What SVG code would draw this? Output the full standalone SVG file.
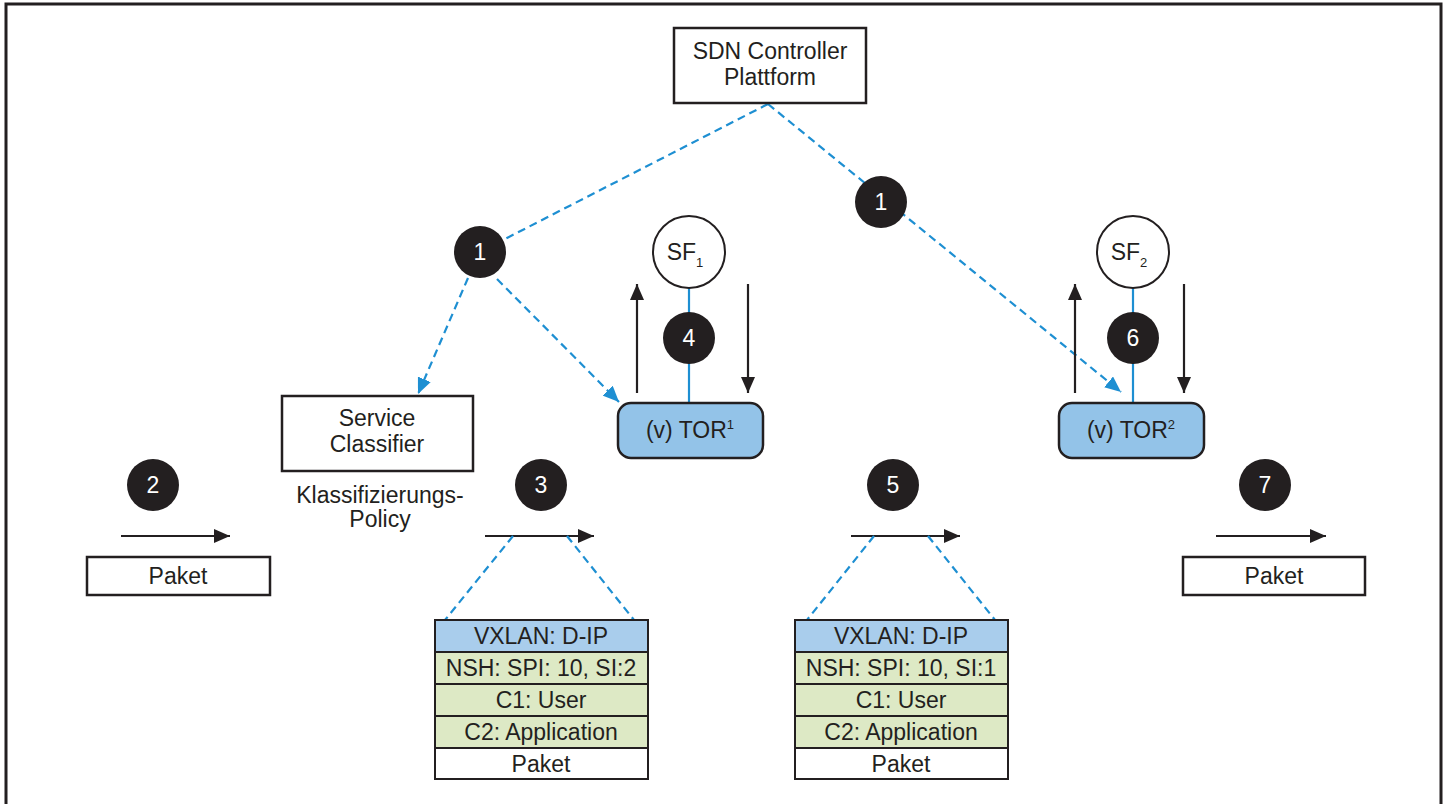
<svg xmlns="http://www.w3.org/2000/svg" width="1448" height="804" viewBox="0 0 1448 804">
<style>
.t{font-family:"Liberation Sans",Arial,Helvetica,sans-serif;font-size:23px;fill:#231f20;text-anchor:middle}
.w{font-family:"Liberation Sans",Arial,Helvetica,sans-serif;font-size:23px;fill:#ffffff;text-anchor:middle}
.box{fill:#ffffff;stroke:#231f20;stroke-width:2.5}
.tor{fill:#93c3e8;stroke:#231f20;stroke-width:2.5}
.num{fill:#231f20}
.sf{fill:#ffffff;stroke:#231f20;stroke-width:2}
.dash{fill:none;stroke:#1e8fd2;stroke-width:2.2;stroke-dasharray:8 5}
.blue{fill:none;stroke:#1e8fd2;stroke-width:2.2}
.arr{fill:none;stroke:#231f20;stroke-width:2.2}
.hdr{fill:#a9cdec;stroke:#231f20;stroke-width:2}
.grn{fill:#dde9c5;stroke:#231f20;stroke-width:2}
.wht{fill:#ffffff;stroke:#231f20;stroke-width:2}
</style>
<defs>
<marker id="ab" markerUnits="userSpaceOnUse" markerWidth="18" markerHeight="14" refX="16" refY="7" orient="auto"><path d="M0,0 L16,7 L0,14 Z" fill="#1e8fd2"/></marker>
<marker id="ak" markerUnits="userSpaceOnUse" markerWidth="18" markerHeight="14" refX="16" refY="7" orient="auto"><path d="M0,0 L16,7 L0,14 Z" fill="#231f20"/></marker>
</defs>
<rect x="0" y="0" width="1448" height="804" fill="#ffffff"/>
<rect x="6" y="4" width="1435" height="830" fill="none" stroke="#231f20" stroke-width="3"/>

<g id="connectors">
<line class="dash" x1="768" y1="104" x2="503" y2="240"/>
<line class="dash" x1="768" y1="104" x2="1121" y2="392" marker-end="url(#ab)"/>
<line class="dash" x1="468" y1="278" x2="418" y2="394" marker-end="url(#ab)"/>
<line class="dash" x1="497" y1="279" x2="619" y2="402" marker-end="url(#ab)"/>
<line class="blue" x1="689" y1="288" x2="689" y2="403"/>
<line class="blue" x1="1133" y1="288" x2="1133" y2="403"/>
<line class="arr" x1="637" y1="393" x2="637" y2="284" marker-end="url(#ak)"/>
<line class="arr" x1="748" y1="284" x2="748" y2="393" marker-end="url(#ak)"/>
<line class="arr" x1="1075" y1="393" x2="1075" y2="284" marker-end="url(#ak)"/>
<line class="arr" x1="1184" y1="284" x2="1184" y2="393" marker-end="url(#ak)"/>
<line class="arr" x1="121" y1="536" x2="230" y2="536" marker-end="url(#ak)"/>
<line class="arr" x1="485" y1="536" x2="594" y2="536" marker-end="url(#ak)"/>
<line class="arr" x1="851" y1="536" x2="960" y2="536" marker-end="url(#ak)"/>
<line class="arr" x1="1216" y1="536" x2="1326" y2="536" marker-end="url(#ak)"/>
<line class="dash" x1="513" y1="536" x2="445" y2="620"/>
<line class="dash" x1="567" y1="536" x2="634" y2="620"/>
<line class="dash" x1="874" y1="536" x2="807" y2="620"/>
<line class="dash" x1="928" y1="536" x2="995" y2="620"/>
</g>

<g id="sdn">
<rect class="box" x="674" y="28" width="192" height="75"/>
<text class="t" x="770" y="59" font-size="24">SDN Controller</text>
<text class="t" x="770" y="85" font-size="24">Plattform</text>
</g>

<g id="n1a"><circle class="num" cx="480" cy="252" r="26"/><text class="w" x="480" y="260">1</text></g>
<g id="n1b"><circle class="num" cx="881" cy="202" r="26"/><text class="w" x="881" y="210">1</text></g>

<g id="sf1"><circle class="sf" cx="689" cy="252" r="36"/><text class="t" x="685" y="260">SF<tspan font-size="13" dy="7">1</tspan></text></g>
<g id="n4"><circle class="num" cx="689" cy="338" r="26"/><text class="w" x="689" y="346">4</text></g>
<g id="tor1"><rect class="tor" x="618" y="403" width="145" height="55" rx="13"/><text class="t" x="690" y="438">(v) TOR<tspan font-size="13" dy="-9">1</tspan></text></g>

<g id="sf2"><circle class="sf" cx="1133" cy="252" r="36"/><text class="t" x="1129" y="260">SF<tspan font-size="13" dy="7">2</tspan></text></g>
<g id="n6"><circle class="num" cx="1133" cy="338" r="26"/><text class="w" x="1133" y="346">6</text></g>
<g id="tor2"><rect class="tor" x="1059" y="403" width="145" height="55" rx="13"/><text class="t" x="1131" y="438">(v) TOR<tspan font-size="13" dy="-9">2</tspan></text></g>

<g id="classifier">
<rect class="box" x="282" y="396" width="191" height="75"/>
<text class="t" x="377" y="426">Service</text>
<text class="t" x="377" y="452">Classifier</text>
<text class="t" x="380" y="503">Klassifizierungs-</text>
<text class="t" x="380" y="527">Policy</text>
</g>

<g id="n2"><circle class="num" cx="153" cy="485" r="26"/><text class="w" x="153" y="493">2</text></g>
<g id="n3"><circle class="num" cx="541" cy="485" r="26"/><text class="w" x="541" y="493">3</text></g>
<g id="n5"><circle class="num" cx="893" cy="485" r="26"/><text class="w" x="893" y="493">5</text></g>
<g id="n7"><circle class="num" cx="1265" cy="485" r="26"/><text class="w" x="1265" y="493">7</text></g>

<g id="paket1"><rect class="box" x="87" y="557" width="183" height="38"/><text class="t" x="178" y="584">Paket</text></g>
<g id="paket2"><rect class="box" x="1183" y="557" width="182" height="38"/><text class="t" x="1274" y="584">Paket</text></g>

<g id="stack1">
<rect class="hdr" x="435" y="620" width="213" height="32"/><text class="t" x="541" y="644">VXLAN: D-IP</text>
<rect class="grn" x="435" y="652" width="213" height="32"/><text class="t" x="541" y="676">NSH: SPI: 10, SI:2</text>
<rect class="grn" x="435" y="684" width="213" height="32"/><text class="t" x="541" y="708">C1: User</text>
<rect class="grn" x="435" y="716" width="213" height="32"/><text class="t" x="541" y="740">C2: Application</text>
<rect class="wht" x="435" y="748" width="213" height="31"/><text class="t" x="541" y="772">Paket</text>
</g>

<g id="stack2">
<rect class="hdr" x="795" y="620" width="213" height="32"/><text class="t" x="901" y="644">VXLAN: D-IP</text>
<rect class="grn" x="795" y="652" width="213" height="32"/><text class="t" x="901" y="676">NSH: SPI: 10, SI:1</text>
<rect class="grn" x="795" y="684" width="213" height="32"/><text class="t" x="901" y="708">C1: User</text>
<rect class="grn" x="795" y="716" width="213" height="32"/><text class="t" x="901" y="740">C2: Application</text>
<rect class="wht" x="795" y="748" width="213" height="31"/><text class="t" x="901" y="772">Paket</text>
</g>
</svg>
